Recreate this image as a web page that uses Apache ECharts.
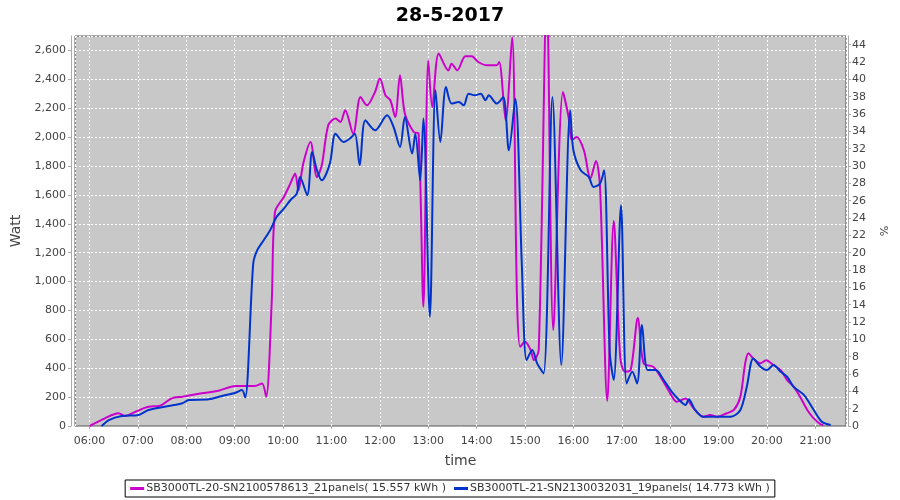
<!DOCTYPE html>
<html><head><meta charset="utf-8">
<script src="https://cdn.jsdelivr.net/npm/echarts@6/dist/echarts.min.js"></script>
<style>html,body{margin:0;padding:0;background:#fff}#c{width:900px;height:500px}</style>
</head><body><div id="c"></div>
<script>
const titleText = '28-5-2017';
const seriesNames = ['SB3000TL-20-SN2100578613_21panels( 15.557 kWh )', 'SB3000TL-21-SN2130032031_19panels( 14.773 kWh )'];
const magTimes = ['06:00','06:19','06:36','06:44','06:57','07:13','07:26','07:42','07:55','08:19',
'08:40','09:01','09:25','09:34','09:39','09:46','09:50','10:01','10:09','10:15',
'10:19','10:25','10:34','10:42','10:48','10:56','11:05','11:11','11:17','11:27',
'11:36','11:44','11:54','12:00','12:07','12:13','12:19','12:25','12:31','12:42',
'12:48','12:54','13:00','13:05','13:13','13:25','13:29','13:36','13:46','13:54',
'14:02','14:13','14:25','14:28','14:36','14:44','14:50','14:54','15:00','15:07',
'15:11','15:17','15:27','15:35','15:47','15:54','15:58','16:04','16:13','16:21',
'16:28','16:33','16:42','16:50','16:58','17:04','17:11','17:20','17:27','17:39',
'17:48','18:00','18:08','18:19','18:29','18:41','18:50','18:58','19:10','19:19',
'19:27','19:33','19:37','19:43','19:52','19:59','20:08','20:17','20:25','20:33',
'20:41','20:50','20:58','21:06','21:10'];
const magWatts = [0,53,88,69,99,134,138,191,203,226,
244,277,277,295,203,871,1482,1586,1678,1748,
1632,1817,1966,1724,1805,2082,2128,2105,2186,2024,
2277,2220,2312,2405,2289,2255,2139,2428,2163,2035,
2024,825,2531,2208,2578,2462,2508,2462,2559,2559,
2520,2497,2497,2520,2116,2693,894,548,583,526,
456,526,3000,664,2312,2139,1978,2001,1909,1713,
1835,1655,174,1420,479,376,387,750,434,410,
341,226,168,191,122,64,76,64,88,111,
203,434,503,468,434,456,422,387,318,272,
203,111,53,14,7];
const blueTimes = ['06:15','06:24','06:40','07:01','07:13','07:38','07:55','08:03','08:28','08:44',
'09:01','09:09','09:13','09:23','09:28','09:36','09:44','09:52','10:01','10:09',
'10:17','10:21','10:30','10:36','10:42','10:48','10:58','11:05','11:15','11:23',
'11:29','11:35','11:42','11:54','12:09','12:17','12:25','12:31','12:40','12:44',
'12:50','12:54','13:02','13:09','13:15','13:22','13:29','13:38','13:44','13:50',
'13:58','14:05','14:11','14:15','14:25','14:33','14:40','14:48','14:56','15:02',
'15:09','15:15','15:23','15:34','15:45','15:56','16:00','16:09','16:19','16:25',
'16:33','16:38','16:45','16:50','16:59','17:06','17:13','17:19','17:25','17:32',
'17:42','17:52','18:02','18:13','18:19','18:23','18:31','18:41','18:58','19:15',
'19:27','19:35','19:43','19:52','20:00','20:08','20:17','20:25','20:33','20:46',
'20:58','21:08','21:19'];
const blueWatts = [0,41,69,76,111,138,157,180,185,208,
230,249,198,1125,1217,1286,1356,1448,1505,1563,
1609,1724,1598,1897,1770,1701,1817,2024,1966,1990,
2024,1805,2116,2047,2151,2070,1932,2139,1886,2024,
1701,2128,756,2324,1966,2347,2232,2243,2220,2301,
2289,2301,2255,2289,2232,2277,1909,2266,1125,456,
526,434,364,2277,422,2186,1909,1770,1724,1655,
1678,1770,514,318,1528,295,376,295,700,387,
387,318,237,170,145,185,111,64,64,64,
111,272,468,410,387,422,376,341,272,214,
111,30,7];
const xRange = ['05:42', '21:38'];
const wattMax = 2700, wattStep = 200;
const pctMax = 45, pctStep = 2;

function toMs(s) { const [h, m] = s.split(':').map(Number); return new Date(2017, 4, 28, h, m).getTime(); }
const pair = (ts, vs) => ts.map((t, i) => [toMs(t), vs[i]]);
const FONT = 'DejaVu Sans';
const chart = echarts.init(document.getElementById('c'), null, { renderer: 'canvas' });
chart.setOption({
  animation: false,
  backgroundColor: '#ffffff',
  title: { text: titleText, left: 'center', top: 2, textStyle: { fontFamily: FONT, fontWeight: 'bold', fontSize: 19, color: '#000' } },
  grid: { left: 75, right: 54, top: 36, bottom: 74, show: true, backgroundColor: '#c8c8c8', borderColor: '#555', borderWidth: 1, containLabel: false, outerBoundsMode: 'none' },
  legend: {
    bottom: 3, left: 'center', data: seriesNames,
    borderColor: '#000', borderWidth: 1, padding: [3, 5], itemGap: 8,
    icon: 'rect', itemWidth: 14, itemHeight: 3,
    textStyle: { fontFamily: FONT, fontSize: 11, color: '#333', padding: [0, 0, 0, -3] }
  },
  xAxis: {
    type: 'time', min: toMs(xRange[0]), max: toMs(xRange[1]),
    minInterval: 3600000, maxInterval: 3600000, offset: 4,
    name: 'time', nameLocation: 'middle', nameGap: 24,
    nameTextStyle: { fontFamily: FONT, fontSize: 14, color: '#444' },
    axisLine: { show: true, lineStyle: { color: '#aaa' } },
    axisTick: { show: true, length: 3, lineStyle: { color: '#aaa' } },
    axisLabel: { fontFamily: FONT, fontSize: 11, color: '#444', margin: 6, formatter: '{HH}:{mm}', hideOverlap: false },
    splitLine: { show: true, lineStyle: { color: '#ffffff', type: [2, 2], width: 1 } }
  },
  yAxis: [{
    type: 'value', min: 0, max: wattMax, interval: wattStep, offset: 4, position: 'left',
    name: 'Watt', nameLocation: 'middle', nameGap: 39, nameRotate: 90,
    nameTextStyle: { fontFamily: FONT, fontSize: 14, color: '#444' },
    axisLine: { show: true, lineStyle: { color: '#aaa' } },
    axisTick: { show: true, length: 3, lineStyle: { color: '#aaa' } },
    axisLabel: { fontFamily: FONT, fontSize: 11, color: '#444', margin: 5, showMaxLabel: false, formatter: v => v.toLocaleString('en-US') },
    splitLine: { show: true, lineStyle: { color: '#ffffff', type: [2, 2], width: 1 } }
  }, {
    type: 'value', min: 0, max: pctMax, interval: pctStep, offset: 2, position: 'right',
    name: '%', nameLocation: 'middle', nameGap: 27, nameRotate: -90,
    nameTextStyle: { fontFamily: FONT, fontSize: 11, color: '#444' },
    axisLine: { show: true, lineStyle: { color: '#aaa' } },
    axisTick: { show: true, length: 3, lineStyle: { color: '#aaa' } },
    axisLabel: { fontFamily: FONT, fontSize: 11, color: '#444', margin: 4, showMaxLabel: false },
    splitLine: { show: false }
  }],
  series: [
    { name: seriesNames[0], type: 'line', yAxisIndex: 0, data: pair(magTimes, magWatts), smooth: 0.3, showSymbol: false, clip: true,
      itemStyle: { color: '#cc00cc' }, lineStyle: { color: '#cc00cc', width: 2 } },
    { name: seriesNames[1], type: 'line', yAxisIndex: 0, data: pair(blueTimes, blueWatts), smooth: 0.3, showSymbol: false, clip: true,
      itemStyle: { color: '#0033cc' }, lineStyle: { color: '#0033cc', width: 2 } }
  ]
});
</script></body></html>
